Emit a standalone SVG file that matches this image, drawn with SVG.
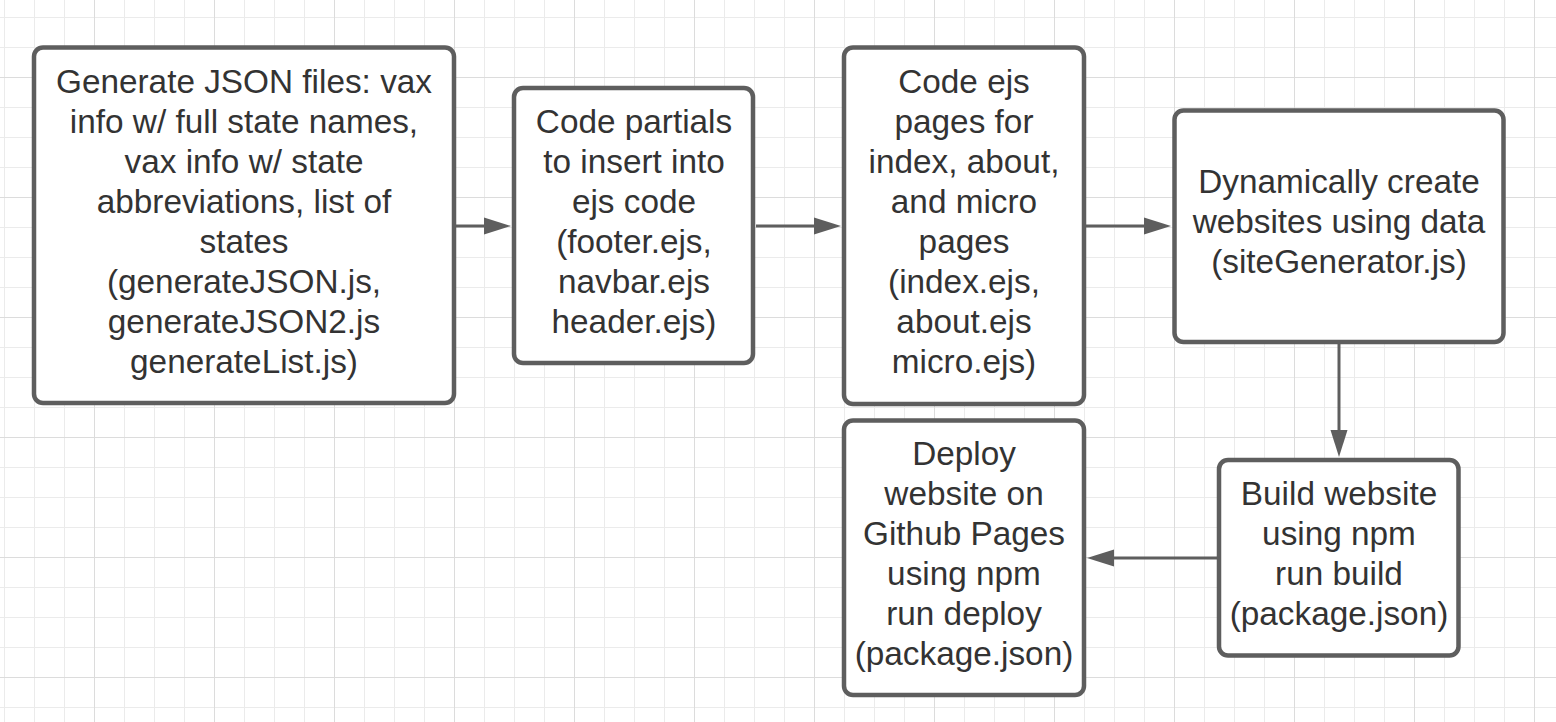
<svg xmlns="http://www.w3.org/2000/svg" width="1556" height="722" viewBox="0 0 1556 722">
<style>
.box{fill:#ffffff;stroke:#5e5e5e;stroke-width:4.5}
.lbl{font-family:"Liberation Sans",Arial,sans-serif;font-size:33.33px;fill:#333333;text-anchor:middle}
.conn{stroke:#5e5e5e;stroke-width:3;fill:none}
.head{fill:#5e5e5e}
</style>
<defs>
<pattern id="grid" patternUnits="userSpaceOnUse" x="94" y="77" width="120" height="120">
<path d="M30.5 0V120M60.5 0V120M90.5 0V120M0 30.5H120M0 60.5H120M0 90.5H120" stroke="#ebebeb" stroke-width="1" fill="none"/>
<path d="M0.5 0V120M0 0.5H120" stroke="#dcdcdc" stroke-width="1" fill="none"/>
</pattern>
</defs>
<rect x="0" y="0" width="1556" height="722" fill="#ffffff"/>
<rect x="0" y="0" width="1556" height="722" fill="url(#grid)"/>

<g id="connectors">
<line class="conn" x1="456" y1="226" x2="486" y2="226"/>
<polygon class="head" points="484,217.5 511,226 484,234.5"/>
<line class="conn" x1="756" y1="226" x2="816" y2="226"/>
<polygon class="head" points="814,217.5 841,226 814,234.5"/>
<line class="conn" x1="1086" y1="226" x2="1146" y2="226"/>
<polygon class="head" points="1144,217.5 1171,226 1144,234.5"/>
<line class="conn" x1="1339" y1="344" x2="1339" y2="432"/>
<polygon class="head" points="1330.5,430 1339,457 1347.5,430"/>
<line class="conn" x1="1217" y1="558" x2="1112" y2="558"/>
<polygon class="head" points="1114,549.5 1087,558 1114,566.5"/>
</g>

<g id="node1">
<rect class="box" x="34" y="47.5" width="420" height="355.5" rx="9"/>
<text class="lbl" x="244" y="92.5">Generate JSON files: vax</text>
<text class="lbl" x="244" y="132.5">info w/ full state names,</text>
<text class="lbl" x="244" y="172.5">vax info w/ state</text>
<text class="lbl" x="244" y="212.5">abbreviations, list of</text>
<text class="lbl" x="244" y="252.5">states</text>
<text class="lbl" x="244" y="292.5">(generateJSON.js,</text>
<text class="lbl" x="244" y="332.5">generateJSON2.js</text>
<text class="lbl" x="244" y="372.5">generateList.js)</text>
</g>

<g id="node2">
<rect class="box" x="514" y="88" width="239" height="275" rx="9"/>
<text class="lbl" x="634" y="132.5">Code partials</text>
<text class="lbl" x="634" y="172.5">to insert into</text>
<text class="lbl" x="634" y="212.5">ejs code</text>
<text class="lbl" x="634" y="252.5">(footer.ejs,</text>
<text class="lbl" x="634" y="292.5">navbar.ejs</text>
<text class="lbl" x="634" y="332.5">header.ejs)</text>
</g>

<g id="node3">
<rect class="box" x="844" y="47.5" width="240" height="356.5" rx="9"/>
<text class="lbl" x="964" y="92.5">Code ejs</text>
<text class="lbl" x="964" y="132.5">pages for</text>
<text class="lbl" x="964" y="172.5">index, about,</text>
<text class="lbl" x="964" y="212.5">and micro</text>
<text class="lbl" x="964" y="252.5">pages</text>
<text class="lbl" x="964" y="292.5">(index.ejs,</text>
<text class="lbl" x="964" y="332.5">about.ejs</text>
<text class="lbl" x="964" y="372.5">micro.ejs)</text>
</g>

<g id="node4">
<rect class="box" x="1174.5" y="110.5" width="329" height="231.5" rx="9"/>
<text class="lbl" x="1339" y="192.5">Dynamically create</text>
<text class="lbl" x="1339" y="232.5">websites using data</text>
<text class="lbl" x="1339" y="272.5">(siteGenerator.js)</text>
</g>

<g id="node5">
<rect class="box" x="1219" y="460" width="239.5" height="195.5" rx="9"/>
<text class="lbl" x="1339" y="504.5">Build website</text>
<text class="lbl" x="1339" y="544.5">using npm</text>
<text class="lbl" x="1339" y="584.5">run build</text>
<text class="lbl" x="1339" y="624.5">(package.json)</text>
</g>

<g id="node6">
<rect class="box" x="844" y="420.5" width="240" height="274.5" rx="9"/>
<text class="lbl" x="964" y="464.5">Deploy</text>
<text class="lbl" x="964" y="504.5">website on</text>
<text class="lbl" x="964" y="544.5">Github Pages</text>
<text class="lbl" x="964" y="584.5">using npm</text>
<text class="lbl" x="964" y="624.5">run deploy</text>
<text class="lbl" x="964" y="664.5">(package.json)</text>
</g>
</svg>
